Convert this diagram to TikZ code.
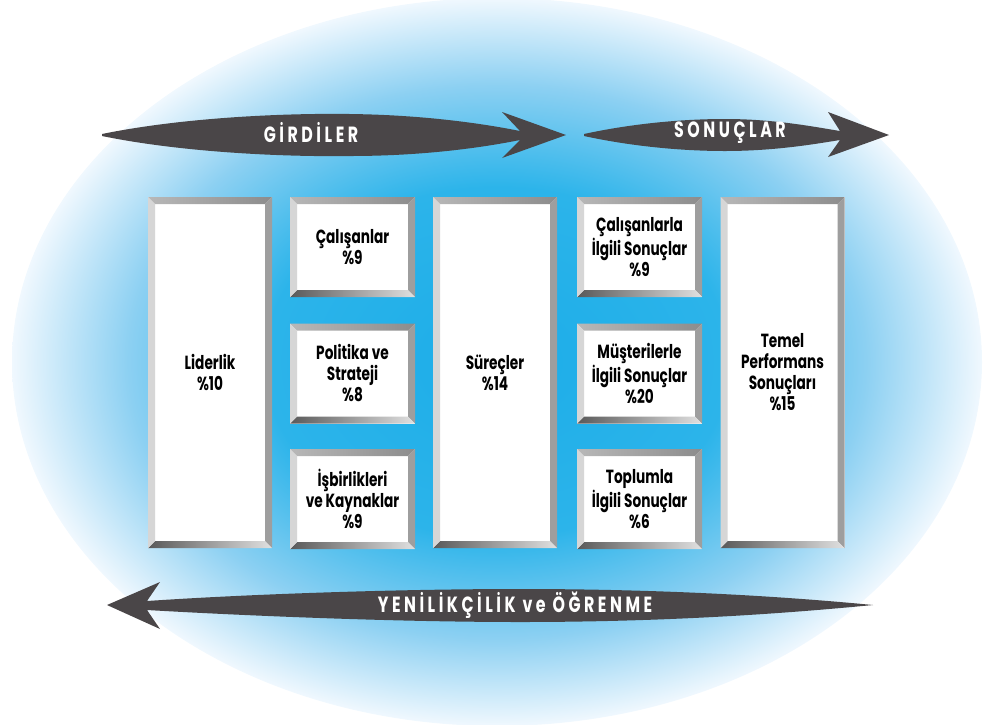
\documentclass[tikz,border=0pt]{standalone}
\usepackage{fontspec}
\newfontfamily\boxfont[FakeStretch=0.72]{Poppins}
\usetikzlibrary{calc}
\definecolor{arrowgray}{RGB}{74,70,72}
\definecolor{ovalctr}{RGB}{28,173,232}
\definecolor{ovalmid}{RGB}{44,180,234}
\definecolor{ovallight}{RGB}{140,208,242}
\definecolor{ovaledge}{RGB}{240,248,254}
\pgfdeclareradialshading{ovalblue}{\pgfpoint{0bp}{0bp}}{color(0bp)=(ovalctr); color(12bp)=(ovalmid); color(19bp)=(ovallight); color(25bp)=(ovaledge); color(50bp)=(ovaledge)}
\tikzset{
  bevelbox/.style={fill=white, minimum width=125pt, minimum height=100pt, inner sep=0pt, align=center,
    font=\boxfont\bfseries\fontsize{19}{21}\selectfont,
    path picture={
      \path (path picture bounding box.north west) coordinate (pa)
            (path picture bounding box.north east) coordinate (pb)
            (path picture bounding box.south east) coordinate (pc)
            (path picture bounding box.south west) coordinate (pd);
      \shade[left color=black!28, middle color=black!14, right color=black!45] (pa) -- (pb) -- ([shift={(-7pt,-7pt)}]pb) -- ([shift={(7pt,-7pt)}]pa) -- cycle;
      \fill[black!38] (pb) -- (pc) -- ([shift={(-7pt,7pt)}]pc) -- ([shift={(-7pt,-7pt)}]pb) -- cycle;
      \shade[left color=black!65, right color=black!12] (pd) -- (pc) -- ([shift={(-7pt,7pt)}]pc) -- ([shift={(7pt,7pt)}]pd) -- cycle;
      \fill[black!16] (pa) -- (pd) -- ([shift={(7pt,7pt)}]pd) -- ([shift={(7pt,-7pt)}]pa) -- cycle;
    }},
  tallbox/.style={bevelbox, minimum width=124pt, minimum height=351pt},
  arrowlabel/.style={text=white, inner sep=0pt,
    font=\boxfont\bfseries\fontsize{22}{24}\selectfont\addfontfeature{LetterSpace=16}}
}

\begin{document}
\begin{tikzpicture}[x=1pt, y=-1pt]
\useasboundingbox (0,0) rectangle (985,724);
\shade[shading=ovalblue] (497,362) ellipse [x radius=485pt, y radius=364pt];

% arrows
\fill[arrowgray] (102,134) .. controls (180,118) and (280,113) .. (350,114)
  .. controls (430,115) and (490,125) .. (520,131) -- (502,112) -- (566,135) -- (502,158) -- (520,140)
  .. controls (490,146) and (430,156) .. (350,156) .. controls (280,157) and (180,152) .. (102,136) -- cycle;
\fill[arrowgray] (584,134) .. controls (630,124) and (680,119) .. (725,119)
  .. controls (775,119) and (815,127) .. (840,131) -- (828,112) -- (889,135) -- (828,157) -- (840,140)
  .. controls (815,144) and (775,151) .. (725,151) .. controls (680,151) and (630,146) .. (584,136) -- cycle;
\fill[arrowgray] (107,605) -- (160,582) -- (147,601) .. controls (250,594) and (400,589) .. (520,589)
  .. controls (680,589) and (800,598) .. (873,605) .. controls (800,612) and (680,622) .. (520,622)
  .. controls (400,622) and (250,616) .. (147,610) -- (160,629) -- cycle;

\node[arrowlabel] (girdi) at (311,133) {GİRDİLER};
\node[arrowlabel] (sonuc) at (730,133) {SONUÇLAR};
\node[arrowlabel] (yenilik) at (515,605) {YENİLİKÇİLİK ve ÖĞRENME};

% boxes
\node[tallbox] (lider) at (210,372.5) {Liderlik\\\%10};
\node[bevelbox] (calisan) at (352.5,247) {Çalışanlar\\\%9};
\node[bevelbox] (politika) at (352.5,373.5) {Politika ve\\Strateji\\\%8};
\node[bevelbox] (isbirlik) at (352.5,499) {İşbirlikleri\\ve Kaynaklar\\\%9};
\node[tallbox] (surec) at (495,372.5) {Süreçler\\\%14};
\node[bevelbox] (calsonuc) at (639.5,247) {Çalışanlarla\\İlgili Sonuçlar\\\%9};
\node[bevelbox] (mussonuc) at (639.5,373.5) {Müşterilerle\\İlgili Sonuçlar\\\%20};
\node[bevelbox] (topsonuc) at (639.5,499) {Toplumla\\İlgili Sonuçlar\\\%6};
\node[tallbox] (temel) at (782.5,372.5) {Temel\\Performans\\Sonuçları\\\%15};
\end{tikzpicture}
\end{document}
